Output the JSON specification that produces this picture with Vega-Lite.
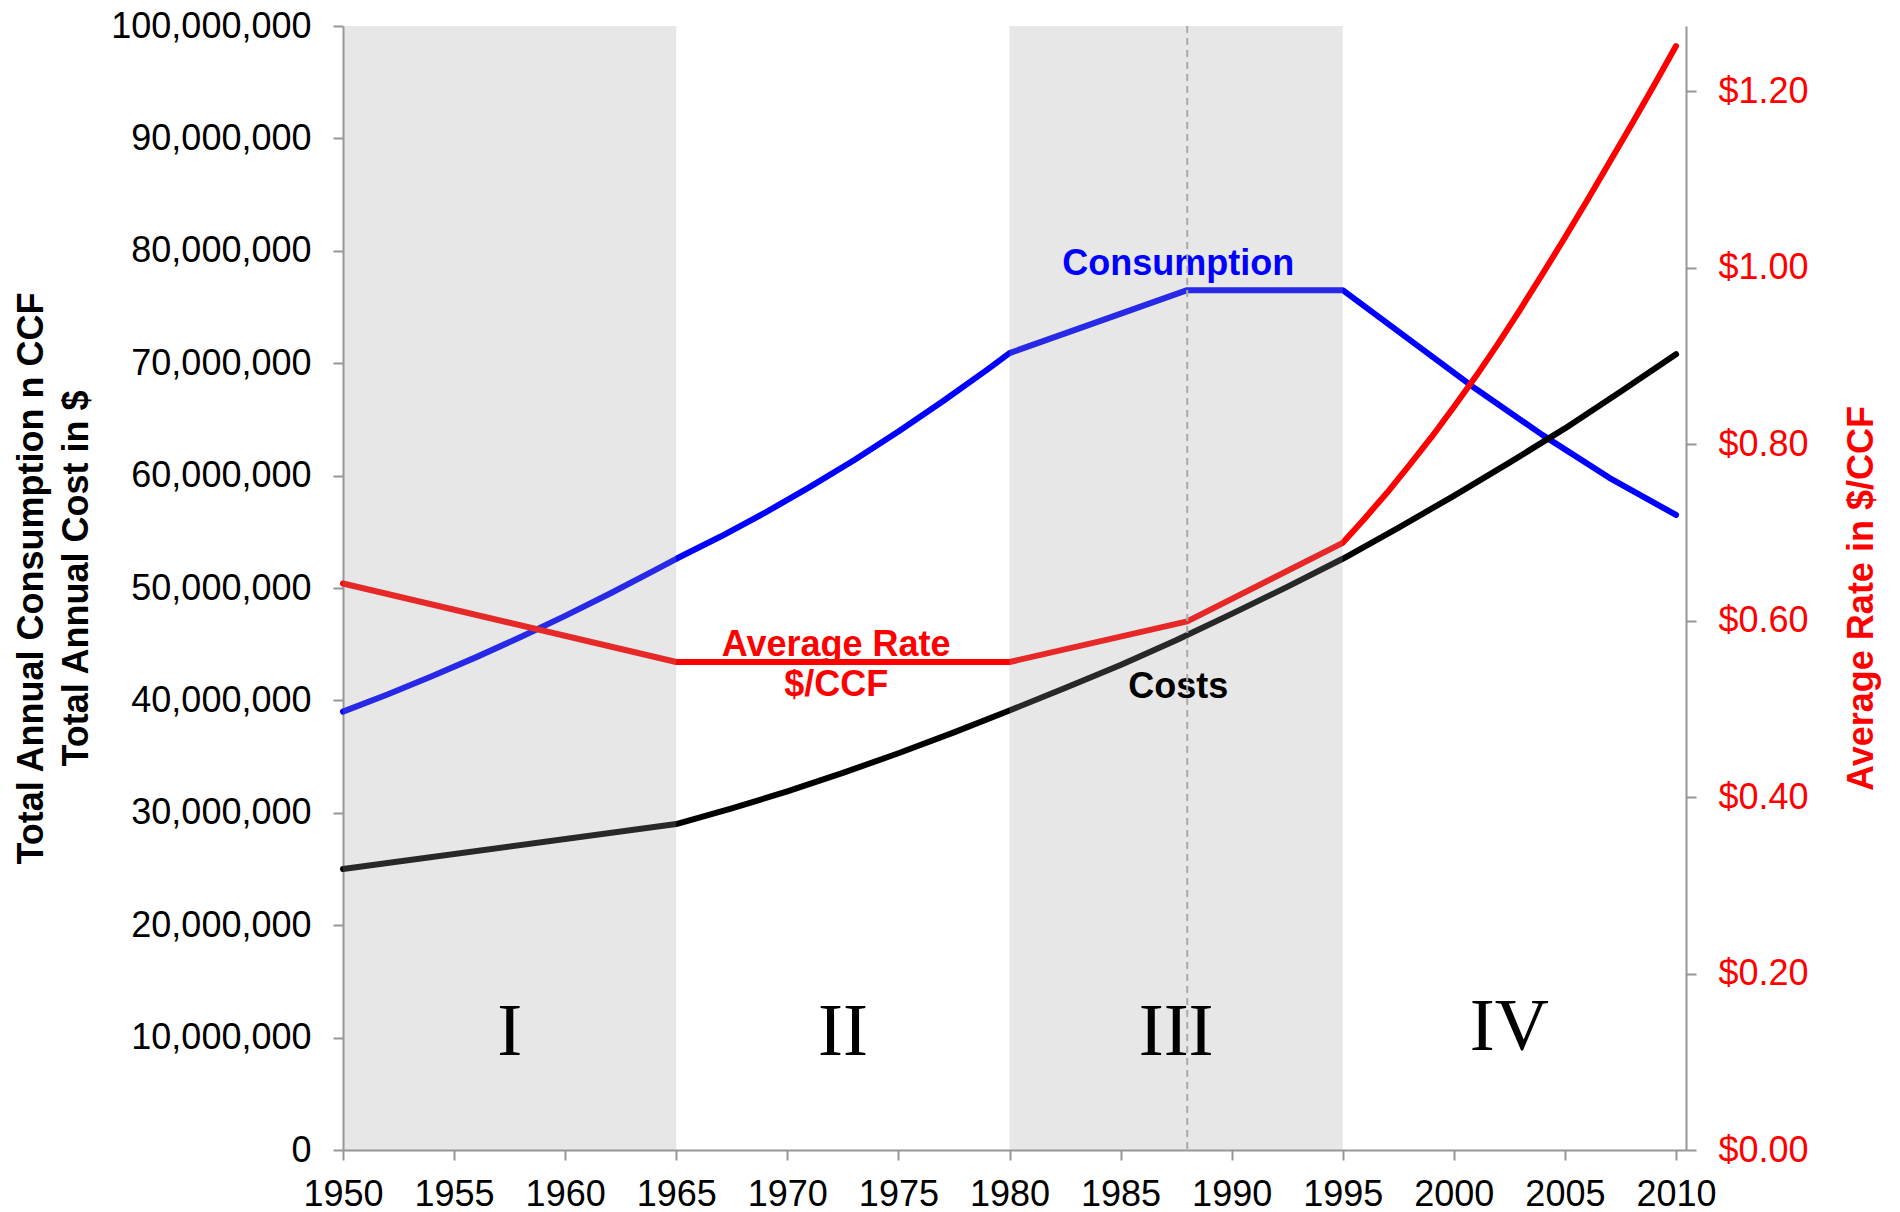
{
  "$schema": "https://vega.github.io/schema/vega-lite/v6.json",
  "width": 1343,
  "height": 1124,
  "autosize": {"type": "none"},
  "padding": {"left": 343, "top": 26, "right": 214, "bottom": 62},
  "background": "white",
  "config": {
    "view": {"stroke": null},
    "font": "Liberation Sans",
    "axis": {
      "grid": false,
      "domainColor": "#969696",
      "tickColor": "#969696",
      "domainWidth": 2,
      "tickWidth": 2,
      "tickSize": 10,
      "labelFont": "Liberation Sans",
      "labelFontSize": 36,
      "labelColor": "#000000",
      "labelFlush": false,
      "labelOverlap": false,
      "labelLimit": 500,
      "titleFont": "Liberation Sans",
      "titleFontSize": 36,
      "titleFontWeight": "bold"
    }
  },
  "datasets": {
    "consumption": [
      {"year": 1950, "value": 39000000},
      {"year": 1952, "value": 40530000},
      {"year": 1954, "value": 42140000},
      {"year": 1956, "value": 43850000},
      {"year": 1958, "value": 45640000},
      {"year": 1960, "value": 47520000},
      {"year": 1962, "value": 49490000},
      {"year": 1964, "value": 51540000},
      {"year": 1965, "value": 52600000},
      {"year": 1967, "value": 54580000},
      {"year": 1969, "value": 56700000},
      {"year": 1971, "value": 58970000},
      {"year": 1973, "value": 61370000},
      {"year": 1975, "value": 63920000},
      {"year": 1977, "value": 66610000},
      {"year": 1979, "value": 69430000},
      {"year": 1980, "value": 70900000},
      {"year": 1988, "value": 76500000},
      {"year": 1995, "value": 76500000},
      {"year": 1998, "value": 72100000},
      {"year": 2001, "value": 67700000},
      {"year": 2004, "value": 63600000},
      {"year": 2007, "value": 59800000},
      {"year": 2010, "value": 56500000}
    ],
    "cost": [
      {"year": 1950, "value": 25000000},
      {"year": 1965, "value": 29000000},
      {"year": 1967.5, "value": 30400000},
      {"year": 1970, "value": 31900000},
      {"year": 1972.5, "value": 33550000},
      {"year": 1975, "value": 35300000},
      {"year": 1977.5, "value": 37150000},
      {"year": 1980, "value": 39100000},
      {"year": 1982.5, "value": 41100000},
      {"year": 1985, "value": 43150000},
      {"year": 1987.5, "value": 45350000},
      {"year": 1990, "value": 47700000},
      {"year": 1992.5, "value": 50100000},
      {"year": 1995, "value": 52600000},
      {"year": 1997.5, "value": 55350000},
      {"year": 2000, "value": 58200000},
      {"year": 2002.5, "value": 61150000},
      {"year": 2005, "value": 64200000},
      {"year": 2007.5, "value": 67450000},
      {"year": 2010, "value": 70800000}
    ],
    "rate": [
      {"year": 1950, "rate": 0.642},
      {"year": 1965, "rate": 0.553},
      {"year": 1980, "rate": 0.553},
      {"year": 1988, "rate": 0.599},
      {"year": 1995, "rate": 0.688},
      {"year": 1996, "rate": 0.716},
      {"year": 1997, "rate": 0.745},
      {"year": 1998, "rate": 0.776},
      {"year": 1999, "rate": 0.808},
      {"year": 2000, "rate": 0.842},
      {"year": 2001, "rate": 0.877},
      {"year": 2002, "rate": 0.914},
      {"year": 2003, "rate": 0.953},
      {"year": 2004, "rate": 0.993},
      {"year": 2005, "rate": 1.034},
      {"year": 2006, "rate": 1.076},
      {"year": 2007, "rate": 1.119},
      {"year": 2008, "rate": 1.162},
      {"year": 2009, "rate": 1.206},
      {"year": 2010, "rate": 1.251}
    ],
    "periods": [
      {"start": 1950, "end": 1965},
      {"start": 1980, "end": 1995}
    ],
    "roman": [
      {"label": "I", "year": 1957.5, "y": 8450000},
      {"label": "II", "year": 1972.5, "y": 8450000},
      {"label": "III", "year": 1987.5, "y": 8450000},
      {"label": "IV", "year": 2002.5, "y": 8900000}
    ]
  },
  "layer": [
    {
      "layer": [
        {
          "data": {"name": "consumption"},
          "mark": {"type": "line", "color": "#0000FF", "strokeWidth": 6, "strokeCap": "round", "strokeJoin": "round"},
          "encoding": {
            "x": {
              "field": "year", "type": "quantitative",
              "scale": {"domain": [1950, 2010.45], "nice": false, "zero": false},
              "axis": {"orient": "bottom", "values": [1950, 1955, 1960, 1965, 1970, 1975, 1980, 1985, 1990, 1995, 2000, 2005, 2010], "format": "d", "title": null, "labelPadding": 17}
            },
            "y": {
              "field": "value", "type": "quantitative",
              "scale": {"domain": [0, 100000000], "nice": false},
              "axis": {
                "orient": "left",
                "values": [0, 10000000, 20000000, 30000000, 40000000, 50000000, 60000000, 70000000, 80000000, 90000000, 100000000],
                "format": ",d",
                "labelPadding": 22,
                "title": ["Total Annual Consumption n CCF", "Total Annual Cost in $"],
                "titleColor": "#000000",
                "titleAngle": 270,
                "titleAlign": "center",
                "titleBaseline": "alphabetic",
                "titleLineHeight": 45,
                "titleX": -301,
                "titleY": 552
              }
            }
          }
        },
        {
          "data": {"name": "cost"},
          "mark": {"type": "line", "color": "#000000", "strokeWidth": 6, "strokeCap": "round", "strokeJoin": "round"},
          "encoding": {
            "x": {
              "field": "year", "type": "quantitative",
              "scale": {"domain": [1950, 2010.45], "nice": false, "zero": false},
              "axis": {"orient": "bottom", "values": [1950, 1955, 1960, 1965, 1970, 1975, 1980, 1985, 1990, 1995, 2000, 2005, 2010], "format": "d", "title": null, "labelPadding": 17}
            },
            "y": {"field": "value", "type": "quantitative", "scale": {"domain": [0, 100000000], "nice": false}}
          }
        }
      ]
    },
    {
      "layer": [
        {
          "data": {"name": "rate"},
          "mark": {"type": "line", "color": "#FF0000", "strokeWidth": 6, "strokeCap": "round", "strokeJoin": "round"},
          "encoding": {
            "x": {
              "field": "year", "type": "quantitative",
              "scale": {"domain": [1950, 2010.45], "nice": false, "zero": false},
              "axis": {"orient": "bottom", "values": [1950, 1955, 1960, 1965, 1970, 1975, 1980, 1985, 1990, 1995, 2000, 2005, 2010], "format": "d", "title": null, "labelPadding": 17}
            },
            "y": {
              "field": "rate", "type": "quantitative",
              "scale": {"domain": [0, 1.2737], "nice": false},
              "axis": {
                "orient": "right",
                "values": [0, 0.2, 0.4, 0.6, 0.8, 1.0, 1.2],
                "format": "$.2f",
                "labelColor": "#FF0000",
                "labelPadding": 22,
                "title": "Average Rate in $/CCF",
                "titleColor": "#FF0000",
                "titleAngle": 270,
                "titleAlign": "center",
                "titleBaseline": "alphabetic",
                "titleX": 186,
                "titleY": 572
              }
            }
          }
        },
        {
          "data": {"name": "periods"},
          "mark": {"type": "rect", "color": "#9e9e9e", "opacity": 0.25},
          "encoding": {
            "x": {
              "field": "start", "type": "quantitative",
              "scale": {"domain": [1950, 2010.45], "nice": false, "zero": false},
              "axis": {"orient": "bottom", "values": [1950, 1955, 1960, 1965, 1970, 1975, 1980, 1985, 1990, 1995, 2000, 2005, 2010], "format": "d", "title": null, "labelPadding": 17}
            },
            "x2": {"field": "end"}
          }
        }
      ]
    },
    {
      "layer": [
        {
          "data": {"name": "roman"},
          "mark": {"type": "text", "font": "Liberation Serif", "fontSize": 75, "color": "#000000", "align": "center", "baseline": "alphabetic"},
          "encoding": {
            "x": {
              "field": "year", "type": "quantitative",
              "scale": {"domain": [1950, 2010.45], "nice": false, "zero": false},
              "axis": {"orient": "bottom", "values": [1950, 1955, 1960, 1965, 1970, 1975, 1980, 1985, 1990, 1995, 2000, 2005, 2010], "format": "d", "title": null, "labelPadding": 17}
            },
            "y": {"field": "y", "type": "quantitative", "scale": {"domain": [0, 100000000], "nice": false}, "axis": null},
            "text": {"field": "label"}
          }
        },
        {
          "data": {"values": [{"label": "Consumption", "year": 1987.6, "y": 77850000}]},
          "mark": {"type": "text", "fontSize": 36, "fontWeight": "bold", "color": "#0000FF", "align": "center", "baseline": "alphabetic"},
          "encoding": {
            "x": {
              "field": "year", "type": "quantitative",
              "scale": {"domain": [1950, 2010.45], "nice": false, "zero": false},
              "axis": {"orient": "bottom", "values": [1950, 1955, 1960, 1965, 1970, 1975, 1980, 1985, 1990, 1995, 2000, 2005, 2010], "format": "d", "title": null, "labelPadding": 17}
            },
            "y": {"field": "y", "type": "quantitative", "scale": {"domain": [0, 100000000], "nice": false}, "axis": null},
            "text": {"field": "label"}
          }
        },
        {
          "data": {"values": [{"label": "Average Rate", "year": 1972.2, "y": 43950000}, {"label": "$/CCF", "year": 1972.2, "y": 40350000}]},
          "mark": {"type": "text", "fontSize": 36, "fontWeight": "bold", "color": "#FF0000", "align": "center", "baseline": "alphabetic"},
          "encoding": {
            "x": {
              "field": "year", "type": "quantitative",
              "scale": {"domain": [1950, 2010.45], "nice": false, "zero": false},
              "axis": {"orient": "bottom", "values": [1950, 1955, 1960, 1965, 1970, 1975, 1980, 1985, 1990, 1995, 2000, 2005, 2010], "format": "d", "title": null, "labelPadding": 17}
            },
            "y": {"field": "y", "type": "quantitative", "scale": {"domain": [0, 100000000], "nice": false}, "axis": null},
            "text": {"field": "label"}
          }
        },
        {
          "data": {"values": [{"label": "Costs", "year": 1987.6, "y": 40200000}]},
          "mark": {"type": "text", "fontSize": 36, "fontWeight": "bold", "color": "#000000", "align": "center", "baseline": "alphabetic"},
          "encoding": {
            "x": {
              "field": "year", "type": "quantitative",
              "scale": {"domain": [1950, 2010.45], "nice": false, "zero": false},
              "axis": {"orient": "bottom", "values": [1950, 1955, 1960, 1965, 1970, 1975, 1980, 1985, 1990, 1995, 2000, 2005, 2010], "format": "d", "title": null, "labelPadding": 17}
            },
            "y": {"field": "y", "type": "quantitative", "scale": {"domain": [0, 100000000], "nice": false}, "axis": null},
            "text": {"field": "label"}
          }
        },
        {
          "data": {"values": [{"year": 1988}]},
          "mark": {"type": "rule", "color": "#aaaaaa", "strokeWidth": 2, "strokeDash": [7, 5]},
          "encoding": {
            "x": {
              "field": "year", "type": "quantitative",
              "scale": {"domain": [1950, 2010.45], "nice": false, "zero": false},
              "axis": {"orient": "bottom", "values": [1950, 1955, 1960, 1965, 1970, 1975, 1980, 1985, 1990, 1995, 2000, 2005, 2010], "format": "d", "title": null, "labelPadding": 17}
            }
          }
        }
      ]
    }
  ],
  "resolve": {"scale": {"y": "independent"}, "axis": {"y": "independent"}}
}
